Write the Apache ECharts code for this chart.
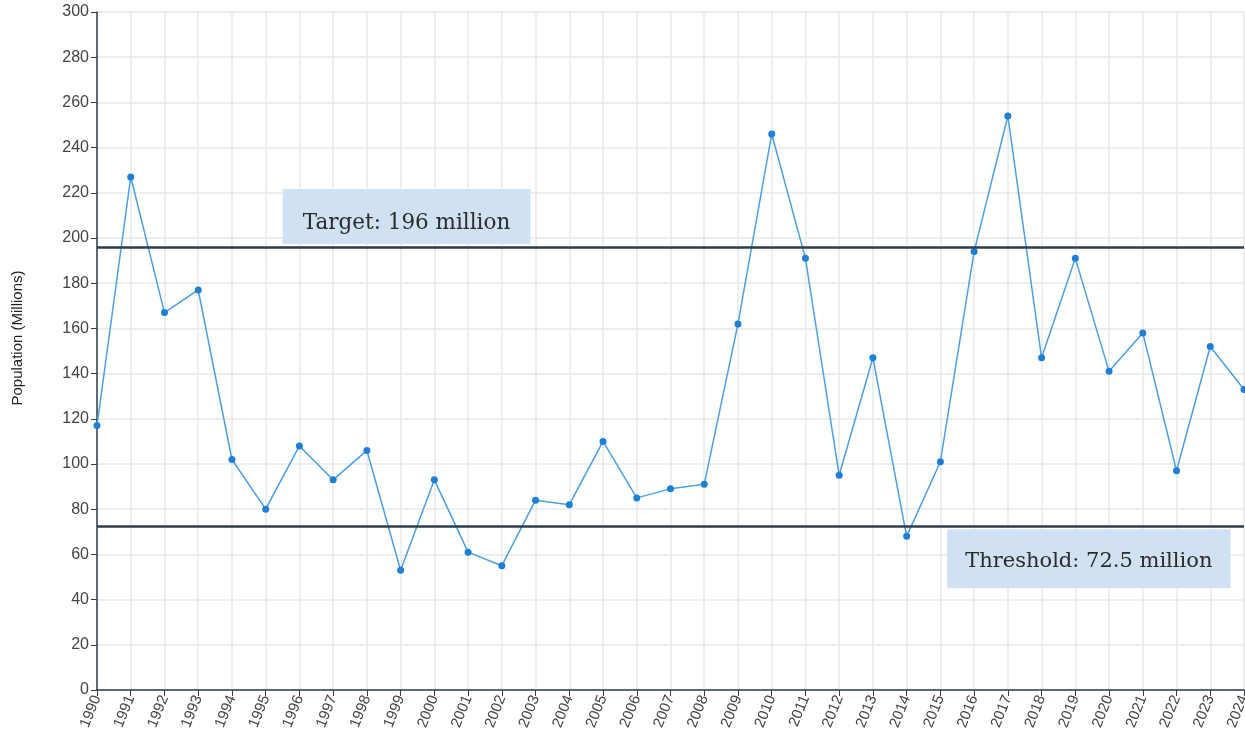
<!DOCTYPE html>
<html>
<head>
<meta charset="utf-8">
<script src="https://cdn.jsdelivr.net/npm/echarts@6/dist/echarts.min.js"></script>
<style>
html,body{margin:0;padding:0;background:#fff;}
#chart{width:1245px;height:739px;}
</style>
</head>
<body>
<div id="chart"></div>
<script>
const years = ['1990','1991','1992','1993','1994','1995','1996','1997','1998','1999','2000','2001','2002','2003','2004','2005','2006','2007','2008','2009','2010','2011','2012','2013','2014','2015','2016','2017','2018','2019','2020','2021','2022','2023','2024'];
const population = [117,227,167,177,102,80,108,93,106,53,93,61,55,84,82,110,85,89,91,162,246,191,95,147,68,101,194,254,147,191,141,158,97,152,133];
const targetValue = 196;
const thresholdValue = 72.5;
const targetLabel = 'Target: 196 million';
const thresholdLabel = 'Threshold: 72.5 million';

const chart = echarts.init(document.getElementById('chart'));
const axisDark = '#2f3f4a';
const option = {
  animation: false,
  grid: {left: 97, right: 1, top: 12, bottom: 49, outerBoundsMode: 'none', containLabel: false},
  xAxis: {
    type: 'category',
    data: years,
    boundaryGap: false,
    axisLine: {lineStyle: {color: axisDark, width: 1.5}},
    axisTick: {alignWithLabel: true, length: 6, lineStyle: {color: axisDark}},
    axisLabel: {rotate: 68, color: '#444', fontSize: 15, fontFamily: 'Liberation Sans, Arial', margin: 6, interval: 0, hideOverlap: false},
    splitLine: {show: true, lineStyle: {color: '#e8e8e8', width: 1.5}}
  },
  yAxis: {
    type: 'value',
    min: 0, max: 300, interval: 20,
    name: 'Population (Millions)',
    nameLocation: 'middle',
    nameGap: 72,
    nameTextStyle: {color: '#222', fontSize: 15, fontFamily: 'Liberation Sans, Arial', padding: [0, 0, 0, 26]},
    axisLine: {show: true, lineStyle: {color: axisDark, width: 1.5}},
    axisTick: {show: true, length: 6, lineStyle: {color: axisDark}},
    axisLabel: {color: '#444', fontSize: 16, fontFamily: 'Liberation Sans, Arial', margin: 8},
    splitLine: {show: true, lineStyle: {color: '#e8e8e8', width: 1.5}}
  },
  series: [{
    type: 'line',
    data: population,
    symbol: 'circle',
    symbolSize: 7,
    lineStyle: {color: '#4b9fe6', width: 1.5},
    itemStyle: {color: '#1f7fd6'},
    markLine: {
      silent: true,
      symbol: 'none',
      label: {show: false},
      lineStyle: {color: '#2c3e4c', width: 2.5, type: 'solid'},
      data: [{yAxis: targetValue}, {yAxis: thresholdValue}]
    }
  }]
};
chart.setOption(option);

function xAt(idx) {
  const i0 = Math.floor(idx), f = idx - i0;
  const p0 = chart.convertToPixel({xAxisIndex: 0}, i0);
  const p1 = chart.convertToPixel({xAxisIndex: 0}, i0 + 1);
  return p0 + (p1 - p0) * f;
}
function yAt(v) { return chart.convertToPixel({yAxisIndex: 0}, v); }

const tLeft = xAt(5.5), tRight = xAt(12.85);
const tBottom = yAt(targetValue) - 3, tTop = tBottom - 55;
const hLeft = xAt(25.2), hRight = xAt(33.6);
const hTop = yAt(thresholdValue) + 3, hBottom = hTop + 59;
const serif = 'DejaVu Serif, serif';
chart.setOption({
  graphic: [
    {type: 'rect', shape: {x: tLeft, y: tTop, width: tRight - tLeft, height: tBottom - tTop}, style: {fill: '#cfe1f2'}, z: 100},
    {type: 'text', x: (tLeft + tRight) / 2, y: tTop + 34, style: {text: targetLabel, font: '21.5px ' + serif, fill: '#2b2b2b', align: 'center', verticalAlign: 'middle'}, z: 101},
    {type: 'rect', shape: {x: hLeft, y: hTop, width: hRight - hLeft, height: hBottom - hTop}, style: {fill: '#cfe1f2'}, z: 100},
    {type: 'text', x: (hLeft + hRight) / 2, y: hTop + 32, style: {text: thresholdLabel, font: '21px ' + serif, fill: '#2b2b2b', align: 'center', verticalAlign: 'middle'}, z: 101}
  ]
});
</script>
</body>
</html>
